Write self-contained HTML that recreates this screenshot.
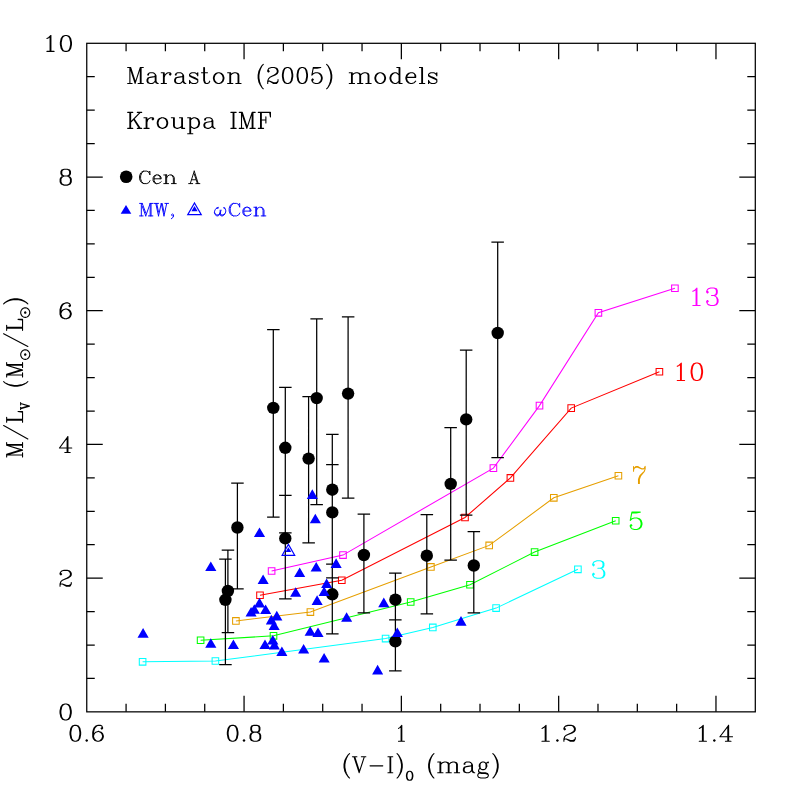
<!DOCTYPE html>
<html><head><meta charset="utf-8"><title>M/L vs V-I</title>
<style>html,body{margin:0;padding:0;background:#fff;font-family:"Liberation Sans",sans-serif;}svg{display:block;}</style></head><body>
<svg width="797" height="797" viewBox="0 0 797 797">
<rect x="0" y="0" width="797" height="797" fill="#ffffff"/>
<rect x="86.75" y="43.3" width="668.55" height="668.5500000000001" fill="none" stroke="#000" stroke-width="1.25"/>
<path d="M126.08 711.85V703.85M126.08 43.3V51.3M165.40 711.85V703.85M165.40 43.3V51.3M204.73 711.85V703.85M204.73 43.3V51.3M244.06 711.85V695.85M244.06 43.3V59.3M283.38 711.85V703.85M283.38 43.3V51.3M322.71 711.85V703.85M322.71 43.3V51.3M362.04 711.85V703.85M362.04 43.3V51.3M401.36 711.85V695.85M401.36 43.3V59.3M440.69 711.85V703.85M440.69 43.3V51.3M480.01 711.85V703.85M480.01 43.3V51.3M519.34 711.85V703.85M519.34 43.3V51.3M558.67 711.85V695.85M558.67 43.3V59.3M597.99 711.85V703.85M597.99 43.3V51.3M637.32 711.85V703.85M637.32 43.3V51.3M676.65 711.85V703.85M676.65 43.3V51.3M715.97 711.85V695.85M715.97 43.3V59.3M86.75 678.42H94.75M755.3 678.42H747.3M86.75 645.00H94.75M755.3 645.00H747.3M86.75 611.57H94.75M755.3 611.57H747.3M86.75 578.14H102.75M755.3 578.14H739.3M86.75 544.71H94.75M755.3 544.71H747.3M86.75 511.29H94.75M755.3 511.29H747.3M86.75 477.86H94.75M755.3 477.86H747.3M86.75 444.43H102.75M755.3 444.43H739.3M86.75 411.00H94.75M755.3 411.00H747.3M86.75 377.57H94.75M755.3 377.57H747.3M86.75 344.15H94.75M755.3 344.15H747.3M86.75 310.72H102.75M755.3 310.72H739.3M86.75 277.29H94.75M755.3 277.29H747.3M86.75 243.87H94.75M755.3 243.87H747.3M86.75 210.44H94.75M755.3 210.44H747.3M86.75 177.01H102.75M755.3 177.01H739.3M86.75 143.58H94.75M755.3 143.58H747.3M86.75 110.15H94.75M755.3 110.15H747.3M86.75 76.73H94.75M755.3 76.73H747.3" fill="none" stroke="#000" stroke-width="1.25"/>
<path d="M142.6 661.8L215.4 661.0L385.6 638.6L432.8 627.4L496.1 608.1L577.9 569.3" fill="none" stroke="#00ffff" stroke-width="1.05"/>
<path d="M139.3 658.5h6.6v6.6h-6.6zM212.1 657.7h6.6v6.6h-6.6zM382.3 635.3h6.6v6.6h-6.6zM429.5 624.1h6.6v6.6h-6.6zM492.8 604.8h6.6v6.6h-6.6zM574.6 566.0h6.6v6.6h-6.6z" fill="none" stroke="#00ffff" stroke-width="1.05"/>
<path d="M200.6 640.2L273.5 635.8L410.7 602.0L470.0 584.7L534.6 552.1L615.7 520.7" fill="none" stroke="#00ff00" stroke-width="1.05"/>
<path d="M197.3 636.9h6.6v6.6h-6.6zM270.2 632.5h6.6v6.6h-6.6zM407.4 598.7h6.6v6.6h-6.6zM466.7 581.4h6.6v6.6h-6.6zM531.3 548.8h6.6v6.6h-6.6zM612.4 517.4h6.6v6.6h-6.6z" fill="none" stroke="#00ff00" stroke-width="1.05"/>
<path d="M235.9 620.9L310.4 612.1L430.9 566.9L489.2 545.4L553.8 497.8L618.4 475.7" fill="none" stroke="#e69f00" stroke-width="1.05"/>
<path d="M232.6 617.6h6.6v6.6h-6.6zM307.1 608.8h6.6v6.6h-6.6zM427.6 563.6h6.6v6.6h-6.6zM485.9 542.1h6.6v6.6h-6.6zM550.5 494.5h6.6v6.6h-6.6zM615.1 472.4h6.6v6.6h-6.6z" fill="none" stroke="#e69f00" stroke-width="1.05"/>
<path d="M260.0 595.2L341.8 580.2L465.0 517.5L510.4 477.9L571.2 408.1L659.4 371.7" fill="none" stroke="#ff0000" stroke-width="1.05"/>
<path d="M256.7 591.9h6.6v6.6h-6.6zM338.5 576.9h6.6v6.6h-6.6zM461.7 514.2h6.6v6.6h-6.6zM507.1 474.6h6.6v6.6h-6.6zM567.9 404.8h6.6v6.6h-6.6zM656.1 368.4h6.6v6.6h-6.6z" fill="none" stroke="#ff0000" stroke-width="1.05"/>
<path d="M271.6 571.0L343.0 555.1L493.4 468.1L539.5 405.6L598.4 312.8L674.9 288.2" fill="none" stroke="#ff00ff" stroke-width="1.05"/>
<path d="M268.3 567.7h6.6v6.6h-6.6zM339.7 551.8h6.6v6.6h-6.6zM490.1 464.8h6.6v6.6h-6.6zM536.2 402.3h6.6v6.6h-6.6zM595.1 309.5h6.6v6.6h-6.6zM671.6 284.9h6.6v6.6h-6.6z" fill="none" stroke="#ff00ff" stroke-width="1.05"/>
<path d="M225.4 559.1V664.5M219.2 559.1H231.7M219.2 664.5H231.7M227.9 550.1V632.7M221.7 550.1H234.2M221.7 632.7H234.2M237.4 483.2V588.8M231.2 483.2H243.7M231.2 588.8H243.7M273.3 329.6V517.2M267.1 329.6H279.6M267.1 517.2H279.6M285.3 387.3V532.8M279.1 387.3H291.6M279.1 532.8H291.6M285.3 495.3V598.8M279.1 495.3H291.6M279.1 598.8H291.6M308.6 396.6V542.8M302.4 396.6H314.9M302.4 542.8H314.9M316.7 318.8V504.7M310.4 318.8H322.9M310.4 504.7H322.9M348.1 316.8V498.2M341.9 316.8H354.4M341.9 498.2H354.4M332.3 434.3V564.1M326.1 434.3H338.6M326.1 564.1H338.6M332.3 464.6V577.9M326.1 464.6H338.6M326.1 577.9H338.6M332.3 564.1V633.9M326.1 564.1H338.6M326.1 633.9H338.6M363.9 514.2V612.9M357.6 514.2H370.1M357.6 612.9H370.1M426.8 514.7V613.8M420.6 514.7H433.1M420.6 613.8H433.1M395.4 573.2V619.9M389.1 573.2H401.6M389.1 619.9H401.6M395.4 619.9V670.8M389.1 619.9H401.6M389.1 670.8H401.6M450.7 427.7V560.2M444.4 427.7H456.9M444.4 560.2H456.9M466.2 350.1V515.0M459.9 350.1H472.4M459.9 515.0H472.4M473.8 531.5V612.8M467.6 531.5H480.1M467.6 612.8H480.1M497.7 242.2V457.5M491.4 242.2H503.9M491.4 457.5H503.9" fill="none" stroke="#000" stroke-width="1.25"/>
<circle cx="225.4" cy="599.8" r="6.2" fill="#000"/>
<circle cx="227.9" cy="591.0" r="6.2" fill="#000"/>
<circle cx="237.4" cy="527.5" r="6.2" fill="#000"/>
<circle cx="273.3" cy="407.9" r="6.2" fill="#000"/>
<circle cx="285.3" cy="447.8" r="6.2" fill="#000"/>
<circle cx="285.3" cy="538.4" r="6.2" fill="#000"/>
<circle cx="308.6" cy="458.6" r="6.2" fill="#000"/>
<circle cx="316.7" cy="398.1" r="6.2" fill="#000"/>
<circle cx="348.1" cy="393.6" r="6.2" fill="#000"/>
<circle cx="332.3" cy="489.7" r="6.2" fill="#000"/>
<circle cx="332.3" cy="512.4" r="6.2" fill="#000"/>
<circle cx="332.3" cy="594.3" r="6.2" fill="#000"/>
<circle cx="363.9" cy="555.0" r="6.2" fill="#000"/>
<circle cx="426.8" cy="555.7" r="6.2" fill="#000"/>
<circle cx="395.4" cy="599.7" r="6.2" fill="#000"/>
<circle cx="395.4" cy="641.4" r="6.2" fill="#000"/>
<circle cx="450.7" cy="483.9" r="6.2" fill="#000"/>
<circle cx="466.2" cy="419.4" r="6.2" fill="#000"/>
<circle cx="473.8" cy="565.5" r="6.2" fill="#000"/>
<circle cx="497.7" cy="333.0" r="6.2" fill="#000"/>
<path d="M143.1 628.1L148.7 637.7L137.5 637.7zM210.8 561.4L216.4 571.0L205.2 571.0zM210.8 638.2L216.4 647.8L205.2 647.8zM233.4 639.4L239.0 649.0L227.8 649.0zM259.5 527.4L265.1 537.0L253.9 537.0zM263.1 574.5L268.7 584.1L257.6 584.1zM299.7 567.5L305.2 577.1L294.1 577.1zM316.2 561.9L321.8 571.5L310.6 571.5zM295.7 587.2L301.2 596.8L290.1 596.8zM259.5 597.8L265.1 607.4L253.9 607.4zM251.1 607.0L256.6 616.6L245.5 616.6zM254.3 604.2L259.9 613.8L248.8 613.8zM265.6 604.4L271.2 614.0L260.1 614.0zM271.3 614.8L276.9 624.4L265.8 624.4zM276.8 610.8L282.4 620.4L271.2 620.4zM274.1 620.5L279.7 630.1L268.6 630.1zM317.1 595.3L322.7 604.9L311.6 604.9zM310.2 626.2L315.8 635.8L304.6 635.8zM318.0 627.4L323.6 637.0L312.4 637.0zM265.0 639.4L270.6 649.0L259.4 649.0zM272.8 635.0L278.4 644.6L267.2 644.6zM274.4 639.9L279.9 649.5L268.8 649.5zM281.9 646.5L287.4 656.1L276.3 656.1zM303.6 643.9L309.2 653.5L298.1 653.5zM324.1 652.9L329.7 662.5L318.6 662.5zM312.3 489.3L317.9 498.9L306.8 498.9zM315.3 513.7L320.9 523.3L309.8 523.3zM336.1 558.3L341.7 567.9L330.6 567.9zM326.6 578.4L332.2 588.0L321.1 588.0zM324.1 586.4L329.7 596.0L318.6 596.0zM346.6 612.2L352.2 621.8L341.1 621.8zM383.8 597.6L389.4 607.2L378.2 607.2zM397.3 627.4L402.9 637.0L391.8 637.0zM461.0 616.1L466.6 625.7L455.4 625.7zM377.6 664.8L383.2 674.4L372.1 674.4z" fill="#0000ff"/>
<path d="M288.40 544.42L294.68 555.30L282.12 555.30z" fill="none" stroke="#0000ff" stroke-width="1.2" stroke-linejoin="miter"/><path d="M288.4 547.3L291.3 552.1L285.5 552.1z" fill="#0000ff"/>
<path d="M64.85 704.05L62.45 704.81L60.85 707.08L60.05 710.87L60.05 713.14L60.85 716.92L62.45 719.19L64.85 719.95L66.45 719.95L68.85 719.19L70.45 716.92L71.25 713.14L71.25 710.87L70.45 707.08L68.85 704.81L66.45 704.05L64.85 704.05M64.85 704.05L63.25 704.81L62.45 705.57L61.65 707.08L60.85 710.87L60.85 713.14L61.65 716.92L62.45 718.44L63.25 719.19L64.85 719.95M66.45 719.95L68.05 719.19L68.85 718.44L69.65 716.92L70.45 713.14L70.45 710.87L69.65 707.08L68.85 705.57L68.05 704.81L66.45 704.05" fill="none" stroke="#000" stroke-width="1.1" stroke-linecap="round" stroke-linejoin="round"/>
<path d="M60.85 573.37L61.65 574.13L60.85 574.88L60.05 574.13L60.05 573.37L60.85 571.86L61.65 571.10L64.05 570.34L67.25 570.34L69.65 571.10L70.45 571.86L71.25 573.37L71.25 574.88L70.45 576.40L68.05 577.91L64.05 579.43L62.45 580.18L60.85 581.70L60.05 583.97L60.05 586.24M67.25 570.34L68.85 571.10L69.65 571.86L70.45 573.37L70.45 574.88L69.65 576.40L67.25 577.91L64.05 579.43M60.05 584.73L60.85 583.97L62.45 583.97L66.45 585.48L68.85 585.48L70.45 584.73L71.25 583.97M62.45 583.97L66.45 586.24L69.65 586.24L70.45 585.48L71.25 583.97L71.25 582.46" fill="none" stroke="#000" stroke-width="1.1" stroke-linecap="round" stroke-linejoin="round"/>
<path d="M67.14 438.15L67.14 452.53M67.91 436.63L67.91 452.53M67.91 436.63L59.45 447.99L71.75 447.99M64.83 452.53L70.21 452.53" fill="none" stroke="#000" stroke-width="1.1" stroke-linecap="round" stroke-linejoin="round"/>
<path d="M69.65 305.19L68.85 305.95L69.65 306.71L70.45 305.95L70.45 305.19L69.65 303.68L68.05 302.92L65.65 302.92L63.25 303.68L61.65 305.19L60.85 306.71L60.05 309.74L60.05 314.28L60.85 316.55L62.45 318.06L64.85 318.82L66.45 318.82L68.85 318.06L70.45 316.55L71.25 314.28L71.25 313.52L70.45 311.25L68.85 309.74L66.45 308.98L65.65 308.98L63.25 309.74L61.65 311.25L60.85 313.52M65.65 302.92L64.05 303.68L62.45 305.19L61.65 306.71L60.85 309.74L60.85 314.28L61.65 316.55L63.25 318.06L64.85 318.82M66.45 318.82L68.05 318.06L69.65 316.55L70.45 314.28L70.45 313.52L69.65 311.25L68.05 309.74L66.45 308.98" fill="none" stroke="#000" stroke-width="1.1" stroke-linecap="round" stroke-linejoin="round"/>
<path d="M64.11 169.21L61.74 169.97L60.94 171.48L60.94 173.75L61.74 175.27L64.11 176.03L67.29 176.03L69.66 175.27L70.46 173.75L70.46 171.48L69.66 169.97L67.29 169.21L64.11 169.21M64.11 169.21L62.53 169.97L61.74 171.48L61.74 173.75L62.53 175.27L64.11 176.03M67.29 176.03L68.87 175.27L69.66 173.75L69.66 171.48L68.87 169.97L67.29 169.21M64.11 176.03L61.74 176.78L60.94 177.54L60.15 179.05L60.15 182.08L60.94 183.60L61.74 184.35L64.11 185.11L67.29 185.11L69.66 184.35L70.46 183.60L71.25 182.08L71.25 179.05L70.46 177.54L69.66 176.78L67.29 176.03M64.11 176.03L62.53 176.78L61.74 177.54L60.94 179.05L60.94 182.08L61.74 183.60L62.53 184.35L64.11 185.11M67.29 185.11L68.87 184.35L69.66 183.60L70.46 182.08L70.46 179.05L69.66 177.54L68.87 176.78L67.29 176.03" fill="none" stroke="#000" stroke-width="1.1" stroke-linecap="round" stroke-linejoin="round"/>
<path d="M46.95 38.53L48.53 37.77L50.90 35.50L50.90 51.40M50.11 36.26L50.11 51.40M46.95 51.40L54.06 51.40M65.13 35.50L62.76 36.26L61.18 38.53L60.39 42.32L60.39 44.59L61.18 48.37L62.76 50.64L65.13 51.40L66.71 51.40L69.08 50.64L70.66 48.37L71.45 44.59L71.45 42.32L70.66 38.53L69.08 36.26L66.71 35.50L65.13 35.50M65.13 35.50L63.55 36.26L62.76 37.02L61.97 38.53L61.18 42.32L61.18 44.59L61.97 48.37L62.76 49.89L63.55 50.64L65.13 51.40M66.71 51.40L68.29 50.64L69.08 49.89L69.87 48.37L70.66 44.59L70.66 42.32L69.87 38.53L69.08 37.02L68.29 36.26L66.71 35.50" fill="none" stroke="#000" stroke-width="1.1" stroke-linecap="round" stroke-linejoin="round"/>
<path d="M74.59 725.35L72.32 726.11L70.81 728.38L70.05 732.17L70.05 734.44L70.81 738.22L72.32 740.49L74.59 741.25L76.10 741.25L78.38 740.49L79.89 738.22L80.65 734.44L80.65 732.17L79.89 728.38L78.38 726.11L76.10 725.35L74.59 725.35M74.59 725.35L73.08 726.11L72.32 726.87L71.56 728.38L70.81 732.17L70.81 734.44L71.56 738.22L72.32 739.74L73.08 740.49L74.59 741.25M76.10 741.25L77.62 740.49L78.38 739.74L79.13 738.22L79.89 734.44L79.89 732.17L79.13 728.38L78.38 726.87L77.62 726.11L76.10 725.35M86.70 739.74L85.94 740.49L86.70 741.25L87.46 740.49L86.70 739.74M101.84 727.62L101.08 728.38L101.84 729.14L102.59 728.38L102.59 727.62L101.84 726.11L100.32 725.35L98.05 725.35L95.78 726.11L94.27 727.62L93.51 729.14L92.75 732.17L92.75 736.71L93.51 738.98L95.03 740.49L97.30 741.25L98.81 741.25L101.08 740.49L102.59 738.98L103.35 736.71L103.35 735.95L102.59 733.68L101.08 732.17L98.81 731.41L98.05 731.41L95.78 732.17L94.27 733.68L93.51 735.95M98.05 725.35L96.54 726.11L95.03 727.62L94.27 729.14L93.51 732.17L93.51 736.71L94.27 738.98L95.78 740.49L97.30 741.25M98.81 741.25L100.32 740.49L101.84 738.98L102.59 736.71L102.59 735.95L101.84 733.68L100.32 732.17L98.81 731.41" fill="none" stroke="#000" stroke-width="1.1" stroke-linecap="round" stroke-linejoin="round"/>
<path d="M231.90 725.35L229.63 726.11L228.11 728.38L227.36 732.17L227.36 734.44L228.11 738.22L229.63 740.49L231.90 741.25L233.41 741.25L235.68 740.49L237.19 738.22L237.95 734.44L237.95 732.17L237.19 728.38L235.68 726.11L233.41 725.35L231.90 725.35M231.90 725.35L230.38 726.11L229.63 726.87L228.87 728.38L228.11 732.17L228.11 734.44L228.87 738.22L229.63 739.74L230.38 740.49L231.90 741.25M233.41 741.25L234.92 740.49L235.68 739.74L236.44 738.22L237.19 734.44L237.19 732.17L236.44 728.38L235.68 726.87L234.92 726.11L233.41 725.35M244.01 739.74L243.25 740.49L244.01 741.25L244.76 740.49L244.01 739.74M253.84 725.35L251.57 726.11L250.82 727.62L250.82 729.89L251.57 731.41L253.84 732.17L256.87 732.17L259.14 731.41L259.90 729.89L259.90 727.62L259.14 726.11L256.87 725.35L253.84 725.35M253.84 725.35L252.33 726.11L251.57 727.62L251.57 729.89L252.33 731.41L253.84 732.17M256.87 732.17L258.39 731.41L259.14 729.89L259.14 727.62L258.39 726.11L256.87 725.35M253.84 732.17L251.57 732.92L250.82 733.68L250.06 735.19L250.06 738.22L250.82 739.74L251.57 740.49L253.84 741.25L256.87 741.25L259.14 740.49L259.90 739.74L260.66 738.22L260.66 735.19L259.90 733.68L259.14 732.92L256.87 732.17M253.84 732.17L252.33 732.92L251.57 733.68L250.82 735.19L250.82 738.22L251.57 739.74L252.33 740.49L253.84 741.25M256.87 741.25L258.39 740.49L259.14 739.74L259.90 738.22L259.90 735.19L259.14 733.68L258.39 732.92L256.87 732.17" fill="none" stroke="#000" stroke-width="1.1" stroke-linecap="round" stroke-linejoin="round"/>
<path d="M398.51 728.38L399.82 727.62L401.79 725.35L401.79 741.25M401.13 726.11L401.13 741.25M398.51 741.25L404.41 741.25" fill="none" stroke="#000" stroke-width="1.1" stroke-linecap="round" stroke-linejoin="round"/>
<path d="M541.97 728.38L543.59 727.62L546.03 725.35L546.03 741.25M545.22 726.11L545.22 741.25M541.97 741.25L549.28 741.25M557.40 739.74L556.59 740.49L557.40 741.25L558.21 740.49L557.40 739.74M564.71 728.38L565.52 729.14L564.71 729.89L563.90 729.14L563.90 728.38L564.71 726.87L565.52 726.11L567.96 725.35L571.21 725.35L573.64 726.11L574.46 726.87L575.27 728.38L575.27 729.89L574.46 731.41L572.02 732.92L567.96 734.44L566.33 735.19L564.71 736.71L563.90 738.98L563.90 741.25M571.21 725.35L572.83 726.11L573.64 726.87L574.46 728.38L574.46 729.89L573.64 731.41L571.21 732.92L567.96 734.44M563.90 739.74L564.71 738.98L566.33 738.98L570.39 740.49L572.83 740.49L574.46 739.74L575.27 738.98M566.33 738.98L570.39 741.25L573.64 741.25L574.46 740.49L575.27 738.98L575.27 737.47" fill="none" stroke="#000" stroke-width="1.1" stroke-linecap="round" stroke-linejoin="round"/>
<path d="M699.27 728.38L700.86 727.62L703.24 725.35L703.24 741.25M702.44 726.11L702.44 741.25M699.27 741.25L706.41 741.25M714.34 739.74L713.54 740.49L714.34 741.25L715.13 740.49L714.34 739.74M727.82 726.87L727.82 741.25M728.61 725.35L728.61 741.25M728.61 725.35L719.89 736.71L732.57 736.71M725.44 741.25L730.99 741.25" fill="none" stroke="#000" stroke-width="1.1" stroke-linecap="round" stroke-linejoin="round"/>
<path d="M129.89 67.45L129.89 83.45M130.63 67.45L135.11 81.16M129.89 67.45L135.11 83.45M140.33 67.45L135.11 83.45M140.33 67.45L140.33 83.45M141.08 67.45L141.08 83.45M127.65 67.45L130.63 67.45M140.33 67.45L143.32 67.45M127.65 83.45L132.13 83.45M138.09 83.45L143.32 83.45M148.54 74.31L148.54 75.07L147.79 75.07L147.79 74.31L148.54 73.54L150.03 72.78L153.02 72.78L154.51 73.54L155.25 74.31L156.00 75.83L156.00 81.16L156.75 82.69L157.49 83.45M155.25 74.31L155.25 81.16L156.00 82.69L157.49 83.45L158.24 83.45M155.25 75.83L154.51 76.59L150.03 77.35L147.79 78.12L147.05 79.64L147.05 81.16L147.79 82.69L150.03 83.45L152.27 83.45L153.76 82.69L155.25 81.16M150.03 77.35L148.54 78.12L147.79 79.64L147.79 81.16L148.54 82.69L150.03 83.45M163.46 72.78L163.46 83.45M164.21 72.78L164.21 83.45M164.21 77.35L164.95 75.07L166.44 73.54L167.94 72.78L170.18 72.78L170.92 73.54L170.92 74.31L170.18 75.07L169.43 74.31L170.18 73.54M161.22 72.78L164.21 72.78M161.22 83.45L166.44 83.45M176.14 74.31L176.14 75.07L175.40 75.07L175.40 74.31L176.14 73.54L177.64 72.78L180.62 72.78L182.11 73.54L182.86 74.31L183.60 75.83L183.60 81.16L184.35 82.69L185.10 83.45M182.86 74.31L182.86 81.16L183.60 82.69L185.10 83.45L185.84 83.45M182.86 75.83L182.11 76.59L177.64 77.35L175.40 78.12L174.65 79.64L174.65 81.16L175.40 82.69L177.64 83.45L179.87 83.45L181.37 82.69L182.86 81.16M177.64 77.35L176.14 78.12L175.40 79.64L175.40 81.16L176.14 82.69L177.64 83.45M197.03 74.31L197.78 72.78L197.78 75.83L197.03 74.31L196.29 73.54L194.79 72.78L191.81 72.78L190.32 73.54L189.57 74.31L189.57 75.83L190.32 76.59L191.81 77.35L195.54 78.88L197.03 79.64L197.78 80.40M189.57 75.07L190.32 75.83L191.81 76.59L195.54 78.12L197.03 78.88L197.78 79.64L197.78 81.93L197.03 82.69L195.54 83.45L192.56 83.45L191.06 82.69L190.32 81.93L189.57 80.40L189.57 83.45L190.32 81.93M203.75 67.45L203.75 80.40L204.49 82.69L205.99 83.45L207.48 83.45L208.97 82.69L209.72 81.16M204.49 67.45L204.49 80.40L205.24 82.69L205.99 83.45M201.51 72.78L207.48 72.78M217.92 72.78L215.68 73.54L214.19 75.07L213.45 77.35L213.45 78.88L214.19 81.16L215.68 82.69L217.92 83.45L219.41 83.45L221.65 82.69L223.14 81.16L223.89 78.88L223.89 77.35L223.14 75.07L221.65 73.54L219.41 72.78L217.92 72.78M217.92 72.78L216.43 73.54L214.94 75.07L214.19 77.35L214.19 78.88L214.94 81.16L216.43 82.69L217.92 83.45M219.41 83.45L220.91 82.69L222.40 81.16L223.14 78.88L223.14 77.35L222.40 75.07L220.91 73.54L219.41 72.78M229.86 72.78L229.86 83.45M230.61 72.78L230.61 83.45M230.61 75.07L232.10 73.54L234.34 72.78L235.83 72.78L238.07 73.54L238.81 75.07L238.81 83.45M235.83 72.78L237.32 73.54L238.07 75.07L238.07 83.45M227.62 72.78L230.61 72.78M227.62 83.45L232.84 83.45M235.83 83.45L241.05 83.45" fill="none" stroke="#000" stroke-width="1.1" stroke-linecap="round" stroke-linejoin="round"/>
<path d="M263.30 64.40L261.83 65.92L260.36 68.21L258.89 71.26L258.15 75.07L258.15 78.12L258.89 81.93L260.36 84.97L261.83 87.26L263.30 88.78M261.83 65.92L260.36 68.97L259.62 71.26L258.89 75.07L258.89 78.12L259.62 81.93L260.36 84.21L261.83 87.26M268.45 70.50L269.19 71.26L268.45 72.02L267.72 71.26L267.72 70.50L268.45 68.97L269.19 68.21L271.40 67.45L274.34 67.45L276.55 68.21L277.29 68.97L278.02 70.50L278.02 72.02L277.29 73.54L275.08 75.07L271.40 76.59L269.93 77.35L268.45 78.88L267.72 81.16L267.72 83.45M274.34 67.45L275.81 68.21L276.55 68.97L277.29 70.50L277.29 72.02L276.55 73.54L274.34 75.07L271.40 76.59M267.72 81.93L268.45 81.16L269.93 81.16L273.61 82.69L275.81 82.69L277.29 81.93L278.02 81.16M269.93 81.16L273.61 83.45L276.55 83.45L277.29 82.69L278.02 81.16L278.02 79.64M286.85 67.45L284.65 68.21L283.17 70.50L282.44 74.31L282.44 76.59L283.17 80.40L284.65 82.69L286.85 83.45L288.33 83.45L290.53 82.69L292.01 80.40L292.74 76.59L292.74 74.31L292.01 70.50L290.53 68.21L288.33 67.45L286.85 67.45M286.85 67.45L285.38 68.21L284.65 68.97L283.91 70.50L283.17 74.31L283.17 76.59L283.91 80.40L284.65 81.93L285.38 82.69L286.85 83.45M288.33 83.45L289.80 82.69L290.53 81.93L291.27 80.40L292.01 76.59L292.01 74.31L291.27 70.50L290.53 68.97L289.80 68.21L288.33 67.45M301.57 67.45L299.37 68.21L297.89 70.50L297.16 74.31L297.16 76.59L297.89 80.40L299.37 82.69L301.57 83.45L303.05 83.45L305.25 82.69L306.73 80.40L307.46 76.59L307.46 74.31L306.73 70.50L305.25 68.21L303.05 67.45L301.57 67.45M301.57 67.45L300.10 68.21L299.37 68.97L298.63 70.50L297.89 74.31L297.89 76.59L298.63 80.40L299.37 81.93L300.10 82.69L301.57 83.45M303.05 83.45L304.52 82.69L305.25 81.93L305.99 80.40L306.73 76.59L306.73 74.31L305.99 70.50L305.25 68.97L304.52 68.21L303.05 67.45M313.35 67.45L311.88 75.07M311.88 75.07L313.35 73.54L315.56 72.78L317.77 72.78L319.97 73.54L321.45 75.07L322.18 77.35L322.18 78.88L321.45 81.16L319.97 82.69L317.77 83.45L315.56 83.45L313.35 82.69L312.61 81.93L311.88 80.40L311.88 79.64L312.61 78.88L313.35 79.64L312.61 80.40M317.77 72.78L319.24 73.54L320.71 75.07L321.45 77.35L321.45 78.88L320.71 81.16L319.24 82.69L317.77 83.45M313.35 67.45L320.71 67.45M313.35 68.21L317.03 68.21L320.71 67.45M326.60 64.40L328.07 65.92L329.54 68.21L331.01 71.26L331.75 75.07L331.75 78.12L331.01 81.93L329.54 84.97L328.07 87.26L326.60 88.78M328.07 65.92L329.54 68.97L330.28 71.26L331.01 75.07L331.01 78.12L330.28 81.93L329.54 84.21L328.07 87.26" fill="none" stroke="#000" stroke-width="1.1" stroke-linecap="round" stroke-linejoin="round"/>
<path d="M351.52 72.78L351.52 83.45M352.27 72.78L352.27 83.45M352.27 75.07L353.78 73.54L356.05 72.78L357.56 72.78L359.82 73.54L360.58 75.07L360.58 83.45M357.56 72.78L359.07 73.54L359.82 75.07L359.82 83.45M360.58 75.07L362.09 73.54L364.35 72.78L365.86 72.78L368.13 73.54L368.88 75.07L368.88 83.45M365.86 72.78L367.37 73.54L368.13 75.07L368.13 83.45M349.25 72.78L352.27 72.78M349.25 83.45L354.54 83.45M357.56 83.45L362.84 83.45M365.86 83.45L371.15 83.45M379.46 72.78L377.19 73.54L375.68 75.07L374.93 77.35L374.93 78.88L375.68 81.16L377.19 82.69L379.46 83.45L380.97 83.45L383.23 82.69L384.74 81.16L385.50 78.88L385.50 77.35L384.74 75.07L383.23 73.54L380.97 72.78L379.46 72.78M379.46 72.78L377.95 73.54L376.44 75.07L375.68 77.35L375.68 78.88L376.44 81.16L377.95 82.69L379.46 83.45M380.97 83.45L382.48 82.69L383.99 81.16L384.74 78.88L384.74 77.35L383.99 75.07L382.48 73.54L380.97 72.78M399.09 67.45L399.09 83.45M399.85 67.45L399.85 83.45M399.09 75.07L397.58 73.54L396.07 72.78L394.56 72.78L392.29 73.54L390.78 75.07L390.03 77.35L390.03 78.88L390.78 81.16L392.29 82.69L394.56 83.45L396.07 83.45L397.58 82.69L399.09 81.16M394.56 72.78L393.05 73.54L391.54 75.07L390.78 77.35L390.78 78.88L391.54 81.16L393.05 82.69L394.56 83.45M396.83 67.45L399.85 67.45M399.09 83.45L402.11 83.45M406.64 77.35L415.71 77.35L415.71 75.83L414.95 74.31L414.19 73.54L412.68 72.78L410.42 72.78L408.15 73.54L406.64 75.07L405.89 77.35L405.89 78.88L406.64 81.16L408.15 82.69L410.42 83.45L411.93 83.45L414.19 82.69L415.71 81.16M414.95 77.35L414.95 75.07L414.19 73.54M410.42 72.78L408.91 73.54L407.40 75.07L406.64 77.35L406.64 78.88L407.40 81.16L408.91 82.69L410.42 83.45M421.75 67.45L421.75 83.45M422.50 67.45L422.50 83.45M419.48 67.45L422.50 67.45M419.48 83.45L424.77 83.45M436.09 74.31L436.85 72.78L436.85 75.83L436.09 74.31L435.34 73.54L433.83 72.78L430.81 72.78L429.30 73.54L428.54 74.31L428.54 75.83L429.30 76.59L430.81 77.35L434.58 78.88L436.09 79.64L436.85 80.40M428.54 75.07L429.30 75.83L430.81 76.59L434.58 78.12L436.09 78.88L436.85 79.64L436.85 81.93L436.09 82.69L434.58 83.45L431.56 83.45L430.05 82.69L429.30 81.93L428.54 80.40L428.54 83.45L429.30 81.93" fill="none" stroke="#000" stroke-width="1.1" stroke-linecap="round" stroke-linejoin="round"/>
<path d="M129.87 112.35L129.87 128.35M130.61 112.35L130.61 128.35M140.24 112.35L130.61 122.25M134.32 119.21L140.24 128.35M133.58 119.21L139.50 128.35M127.65 112.35L132.83 112.35M137.28 112.35L141.72 112.35M127.65 128.35L132.83 128.35M137.28 128.35L141.72 128.35M146.17 117.68L146.17 128.35M146.91 117.68L146.91 128.35M146.91 122.25L147.65 119.97L149.13 118.44L150.61 117.68L152.83 117.68L153.57 118.44L153.57 119.21L152.83 119.97L152.09 119.21L152.83 118.44M143.94 117.68L146.91 117.68M143.94 128.35L149.13 128.35M161.72 117.68L159.50 118.44L158.02 119.97L157.28 122.25L157.28 123.78L158.02 126.06L159.50 127.59L161.72 128.35L163.20 128.35L165.42 127.59L166.91 126.06L167.65 123.78L167.65 122.25L166.91 119.97L165.42 118.44L163.20 117.68L161.72 117.68M161.72 117.68L160.24 118.44L158.76 119.97L158.02 122.25L158.02 123.78L158.76 126.06L160.24 127.59L161.72 128.35M163.20 128.35L164.68 127.59L166.17 126.06L166.91 123.78L166.91 122.25L166.17 119.97L164.68 118.44L163.20 117.68M173.57 117.68L173.57 126.06L174.31 127.59L176.53 128.35L178.02 128.35L180.24 127.59L181.72 126.06M174.31 117.68L174.31 126.06L175.05 127.59L176.53 128.35M181.72 117.68L181.72 128.35M182.46 117.68L182.46 128.35M171.35 117.68L174.31 117.68M179.50 117.68L182.46 117.68M181.72 128.35L184.68 128.35M189.87 117.68L189.87 133.68M190.61 117.68L190.61 133.68M190.61 119.97L192.09 118.44L193.57 117.68L195.05 117.68L197.27 118.44L198.76 119.97L199.50 122.25L199.50 123.78L198.76 126.06L197.27 127.59L195.05 128.35L193.57 128.35L192.09 127.59L190.61 126.06M195.05 117.68L196.53 118.44L198.01 119.97L198.76 122.25L198.76 123.78L198.01 126.06L196.53 127.59L195.05 128.35M187.64 117.68L190.61 117.68M187.64 133.68L192.83 133.68M205.42 119.21L205.42 119.97L204.68 119.97L204.68 119.21L205.42 118.44L206.90 117.68L209.87 117.68L211.35 118.44L212.09 119.21L212.83 120.73L212.83 126.06L213.57 127.59L214.31 128.35M212.09 119.21L212.09 126.06L212.83 127.59L214.31 128.35L215.05 128.35M212.09 120.73L211.35 121.49L206.90 122.25L204.68 123.02L203.94 124.54L203.94 126.06L204.68 127.59L206.90 128.35L209.12 128.35L210.61 127.59L212.09 126.06M206.90 122.25L205.42 123.02L204.68 124.54L204.68 126.06L205.42 127.59L206.90 128.35" fill="none" stroke="#000" stroke-width="1.1" stroke-linecap="round" stroke-linejoin="round"/>
<path d="M233.13 112.35L233.13 128.35M233.90 112.35L233.90 128.35M230.85 112.35L236.18 112.35M230.85 128.35L236.18 128.35M241.51 112.35L241.51 128.35M242.27 112.35L246.84 126.06M241.51 112.35L246.84 128.35M252.17 112.35L246.84 128.35M252.17 112.35L252.17 128.35M252.93 112.35L252.93 128.35M239.23 112.35L242.27 112.35M252.17 112.35L255.22 112.35M239.23 128.35L243.80 128.35M249.89 128.35L255.22 128.35M260.55 112.35L260.55 128.35M261.31 112.35L261.31 128.35M265.88 116.92L265.88 123.02M258.27 112.35L270.45 112.35L270.45 116.92L269.69 112.35M261.31 119.97L265.88 119.97M258.27 128.35L263.60 128.35" fill="none" stroke="#000" stroke-width="1.1" stroke-linecap="round" stroke-linejoin="round"/>
<circle cx="126.2" cy="176.8" r="6.3" fill="#000"/>
<path d="M148.89 172.08L149.93 171.12L149.93 174.96L148.89 172.08L146.82 171.12L143.72 171.12L141.64 172.08L140.61 173.04L139.57 175.92L139.57 178.80L140.61 181.68L141.64 182.64L143.72 183.60L146.82 183.60L148.89 182.64L149.93 180.72M143.72 171.12L141.64 173.04L140.61 175.92L140.61 178.80L141.64 181.68L143.72 183.60" fill="none" stroke="#000" stroke-width="0.95" stroke-linecap="round" stroke-linejoin="round"/><path d="M154.09 178.80L161.22 178.80L161.22 177.84L160.21 175.92L158.17 174.96L156.13 174.96L154.09 175.92L153.07 177.84L153.07 180.72L154.09 182.64L156.13 183.60L158.17 183.60L160.21 182.64L161.22 181.68M160.21 178.80L160.21 176.88L158.17 174.96M156.13 174.96L155.11 175.92L154.09 177.84L154.09 180.72L155.11 182.64L156.13 183.60" fill="none" stroke="#000" stroke-width="0.95" stroke-linecap="round" stroke-linejoin="round"/><path d="M165.69 174.96L165.69 183.60M166.65 174.96L166.65 183.60M166.65 177.84L167.61 175.92L169.52 174.96L171.44 174.96L173.35 175.92L174.31 177.84L174.31 183.60M171.44 174.96L172.39 175.92L173.35 177.84L173.35 183.60M163.78 174.96L166.65 174.96M163.78 183.60L168.56 183.60M171.44 183.60L176.22 183.60" fill="none" stroke="#000" stroke-width="0.95" stroke-linecap="round" stroke-linejoin="round"/><path d="M194.25 171.12L190.27 183.60M194.25 174.00L197.44 183.60M194.25 171.12L198.23 183.60M191.86 179.76L195.84 179.76M188.67 183.60L192.66 183.60M195.84 183.60L199.83 183.60" fill="none" stroke="#000" stroke-width="0.95" stroke-linecap="round" stroke-linejoin="round"/>
<path d="M126.0 205.0L131.3 213.8L120.7 213.8z" fill="#0000ff"/>
<path d="M141.34 203.42L141.34 215.90M142.22 206.30L145.76 215.90M142.22 203.42L145.76 213.02M150.18 203.42L145.76 215.90M150.18 203.42L150.18 215.90M151.06 203.42L151.06 215.90M139.57 203.42L142.22 203.42M150.18 203.42L152.83 203.42M139.57 215.90L143.11 215.90M148.41 215.90L152.83 215.90" fill="none" stroke="#0000ff" stroke-width="0.95" stroke-linecap="round" stroke-linejoin="round"/><path d="M155.79 203.42L158.52 215.90M156.70 203.42L158.52 212.06M161.25 203.42L158.52 215.90M161.25 203.42L163.98 215.90M162.16 203.42L163.98 212.06M166.71 203.42L163.98 215.90M153.97 203.42L158.52 203.42M164.89 203.42L168.53 203.42" fill="none" stroke="#0000ff" stroke-width="0.95" stroke-linecap="round" stroke-linejoin="round"/><path d="M173.53 214.94L172.40 215.90L171.28 214.94L172.40 213.98L173.53 214.94L173.53 216.86L171.28 218.78" fill="none" stroke="#0000ff" stroke-width="0.95" stroke-linecap="round" stroke-linejoin="round"/>
<path d="M194.50 203.00L201.25 214.70L187.75 214.70z" fill="none" stroke="#0000ff" stroke-width="1.2" stroke-linejoin="miter"/><path d="M194.5 206.1L197.6 211.3L191.4 211.3z" fill="#0000ff"/>
<path d="M216.43 208.22L218.29 208.22L218.29 207.26L216.43 208.22L215.50 209.18L214.57 211.10L214.57 213.02L215.50 214.94L216.43 215.90L218.29 215.90L219.22 214.94L220.15 213.02L221.08 210.14M214.57 213.02L216.43 214.94L218.29 214.94L220.15 213.02M220.15 210.14L220.15 214.94L221.08 215.90L222.94 215.90L224.80 213.98L225.72 212.06L225.72 210.14L224.80 208.22L223.87 207.26L223.87 208.22L224.80 208.22M220.15 213.02L221.08 214.94L222.94 214.94L224.80 213.98" fill="none" stroke="#0000ff" stroke-width="0.95" stroke-linecap="round" stroke-linejoin="round"/><path d="M238.67 204.38L239.72 203.42L239.72 207.26L238.67 204.38L236.56 203.42L233.39 203.42L231.28 204.38L230.23 205.34L229.17 208.22L229.17 211.10L230.23 213.98L231.28 214.94L233.39 215.90L236.56 215.90L238.67 214.94L239.72 213.02M233.39 203.42L231.28 205.34L230.23 208.22L230.23 211.10L231.28 213.98L233.39 215.90" fill="none" stroke="#0000ff" stroke-width="0.95" stroke-linecap="round" stroke-linejoin="round"/><path d="M243.89 211.10L251.03 211.10L251.03 210.14L250.01 208.22L247.97 207.26L245.93 207.26L243.89 208.22L242.88 210.14L242.88 213.02L243.89 214.94L245.93 215.90L247.97 215.90L250.01 214.94L251.03 213.98M250.01 211.10L250.01 209.18L247.97 207.26M245.93 207.26L244.91 208.22L243.89 210.14L243.89 213.02L244.91 214.94L245.93 215.90" fill="none" stroke="#0000ff" stroke-width="0.95" stroke-linecap="round" stroke-linejoin="round"/><path d="M255.71 207.26L255.71 215.90M256.63 207.26L256.63 215.90M256.63 210.14L257.55 208.22L259.39 207.26L261.23 207.26L263.07 208.22L263.99 210.14L263.99 215.90M261.23 207.26L262.15 208.22L263.07 210.14L263.07 215.90M253.88 207.26L256.63 207.26M253.88 215.90L258.47 215.90M261.23 215.90L265.82 215.90" fill="none" stroke="#0000ff" stroke-width="0.95" stroke-linecap="round" stroke-linejoin="round"/>
<path d="M692.85 291.34L694.48 290.51L696.91 288.02L696.91 305.45M696.10 288.85L696.10 305.45M692.85 305.45L700.17 305.45M707.48 291.34L708.30 292.17L707.48 293.00L706.67 292.17L706.67 291.34L707.48 289.68L708.30 288.85L710.73 288.02L713.99 288.02L716.42 288.85L717.24 290.51L717.24 293.00L716.42 294.66L713.99 295.49L711.55 295.49M713.99 288.02L715.61 288.85L716.42 290.51L716.42 293.00L715.61 294.66L713.99 295.49M713.99 295.49L715.61 296.32L717.24 297.98L718.05 299.64L718.05 302.13L717.24 303.79L716.42 304.62L713.99 305.45L710.73 305.45L708.30 304.62L707.48 303.79L706.67 302.13L706.67 301.30L707.48 300.47L708.30 301.30L707.48 302.13M716.42 297.15L717.24 299.64L717.24 302.13L716.42 303.79L715.61 304.62L713.99 305.45" fill="none" stroke="#ff00ff" stroke-width="1.1" stroke-linecap="round" stroke-linejoin="round"/>
<path d="M677.25 366.34L678.88 365.51L681.33 363.02L681.33 380.45M680.51 363.85L680.51 380.45M677.25 380.45L684.60 380.45M696.02 363.02L693.57 363.85L691.94 366.34L691.12 370.49L691.12 372.98L691.94 377.13L693.57 379.62L696.02 380.45L697.65 380.45L700.10 379.62L701.73 377.13L702.55 372.98L702.55 370.49L701.73 366.34L700.10 363.85L697.65 363.02L696.02 363.02M696.02 363.02L694.39 363.85L693.57 364.68L692.76 366.34L691.94 370.49L691.94 372.98L692.76 377.13L693.57 378.79L694.39 379.62L696.02 380.45M697.65 380.45L699.29 379.62L700.10 378.79L700.92 377.13L701.73 372.98L701.73 370.49L700.92 366.34L700.10 364.68L699.29 363.85L697.65 363.02" fill="none" stroke="#ff0000" stroke-width="1.1" stroke-linecap="round" stroke-linejoin="round"/>
<path d="M633.55 466.44L633.55 471.30M633.55 469.68L634.38 468.06L636.04 466.44L637.69 466.44L641.84 468.87L643.49 468.87L644.32 468.06L645.15 466.44M634.38 468.06L636.04 467.25L637.69 467.25L641.84 468.87M645.15 466.44L645.15 468.87L644.32 471.30L641.01 475.35L640.18 476.97L639.35 479.40L639.35 483.45M644.32 471.30L640.18 475.35L639.35 476.97L638.52 479.40L638.52 483.45" fill="none" stroke="#e69f00" stroke-width="1.1" stroke-linecap="round" stroke-linejoin="round"/>
<path d="M631.92 512.12L630.25 520.42M630.25 520.42L631.92 518.76L634.43 517.93L636.94 517.93L639.44 518.76L641.11 520.42L641.95 522.91L641.95 524.57L641.11 527.06L639.44 528.72L636.94 529.55L634.43 529.55L631.92 528.72L631.09 527.89L630.25 526.23L630.25 525.40L631.09 524.57L631.92 525.40L631.09 526.23M636.94 517.93L638.61 518.76L640.28 520.42L641.11 522.91L641.11 524.57L640.28 527.06L638.61 528.72L636.94 529.55M631.92 512.12L640.28 512.12M631.92 512.95L636.10 512.95L640.28 512.12" fill="none" stroke="#00ff00" stroke-width="1.1" stroke-linecap="round" stroke-linejoin="round"/>
<path d="M593.51 564.14L594.38 564.97L593.51 565.80L592.65 564.97L592.65 564.14L593.51 562.48L594.38 561.65L596.97 560.82L600.43 560.82L603.02 561.65L603.89 563.31L603.89 565.80L603.02 567.46L600.43 568.29L597.84 568.29M600.43 560.82L602.16 561.65L603.02 563.31L603.02 565.80L602.16 567.46L600.43 568.29M600.43 568.29L602.16 569.12L603.89 570.78L604.75 572.44L604.75 574.93L603.89 576.59L603.02 577.42L600.43 578.25L596.97 578.25L594.38 577.42L593.51 576.59L592.65 574.93L592.65 574.10L593.51 573.27L594.38 574.10L593.51 574.93M603.02 569.95L603.89 572.44L603.89 574.93L603.02 576.59L602.16 577.42L600.43 578.25" fill="none" stroke="#00ffff" stroke-width="1.1" stroke-linecap="round" stroke-linejoin="round"/>
<path d="M349.55 753.65L347.98 755.17L346.41 757.46L344.84 760.51L344.05 764.32L344.05 767.37L344.84 771.18L346.41 774.22L347.98 776.51L349.55 778.03M347.98 755.17L346.41 758.22L345.62 760.51L344.84 764.32L344.84 767.37L345.62 771.18L346.41 773.46L347.98 776.51" fill="none" stroke="#000" stroke-width="1.1" stroke-linecap="round" stroke-linejoin="round"/><path d="M353.94 756.70L359.15 772.70M354.68 756.70L359.15 770.41M364.36 756.70L359.15 772.70M352.45 756.70L356.92 756.70M361.38 756.70L365.85 756.70" fill="none" stroke="#000" stroke-width="1.1" stroke-linecap="round" stroke-linejoin="round"/><path d="M370.05 765.84L382.75 765.84" fill="none" stroke="#000" stroke-width="1.1" stroke-linecap="round" stroke-linejoin="round"/><path d="M390.01 756.70L390.01 772.70M390.69 756.70L390.69 772.70M387.95 756.70L392.75 756.70M387.95 772.70L392.75 772.70" fill="none" stroke="#000" stroke-width="1.1" stroke-linecap="round" stroke-linejoin="round"/><path d="M397.05 753.65L398.54 755.17L400.02 757.46L401.51 760.51L402.25 764.32L402.25 767.37L401.51 771.18L400.02 774.22L398.54 776.51L397.05 778.03M398.54 755.17L400.02 758.22L400.76 760.51L401.51 764.32L401.51 767.37L400.76 771.18L400.02 773.46L398.54 776.51" fill="none" stroke="#000" stroke-width="1.1" stroke-linecap="round" stroke-linejoin="round"/>
<path d="M409.19 771.27L407.82 771.70L406.91 772.99L406.45 775.14L406.45 776.43L406.91 778.58L407.82 779.87L409.19 780.30L410.11 780.30L411.48 779.87L412.39 778.58L412.85 776.43L412.85 775.14L412.39 772.99L411.48 771.70L410.11 771.27L409.19 771.27M409.19 771.27L408.28 771.70L407.82 772.13L407.36 772.99L406.91 775.14L406.91 776.43L407.36 778.58L407.82 779.44L408.28 779.87L409.19 780.30M410.11 780.30L411.02 779.87L411.48 779.44L411.94 778.58L412.39 776.43L412.39 775.14L411.94 772.99L411.48 772.13L411.02 771.70L410.11 771.27" fill="none" stroke="#000" stroke-width="1.1" stroke-linecap="round" stroke-linejoin="round"/>
<path d="M433.94 753.65L432.43 755.17L430.92 757.46L429.41 760.51L428.65 764.32L428.65 767.37L429.41 771.18L430.92 774.22L432.43 776.51L433.94 778.03M432.43 755.17L430.92 758.22L430.16 760.51L429.41 764.32L429.41 767.37L430.16 771.18L430.92 773.46L432.43 776.51M439.98 762.03L439.98 772.70M440.74 762.03L440.74 772.70M440.74 764.32L442.25 762.79L444.51 762.03L446.03 762.03L448.29 762.79L449.05 764.32L449.05 772.70M446.03 762.03L447.54 762.79L448.29 764.32L448.29 772.70M449.05 764.32L450.56 762.79L452.82 762.03L454.33 762.03L456.60 762.79L457.36 764.32L457.36 772.70M454.33 762.03L455.85 762.79L456.60 764.32L456.60 772.70M437.72 762.03L440.74 762.03M437.72 772.70L443.00 772.70M446.03 772.70L451.31 772.70M454.33 772.70L459.62 772.70M464.91 763.56L464.91 764.32L464.16 764.32L464.16 763.56L464.91 762.79L466.42 762.03L469.44 762.03L470.95 762.79L471.71 763.56L472.47 765.08L472.47 770.41L473.22 771.94L473.98 772.70M471.71 763.56L471.71 770.41L472.47 771.94L473.98 772.70L474.73 772.70M471.71 765.08L470.95 765.84L466.42 766.60L464.16 767.37L463.40 768.89L463.40 770.41L464.16 771.94L466.42 772.70L468.69 772.70L470.20 771.94L471.71 770.41M466.42 766.60L464.91 767.37L464.16 768.89L464.16 770.41L464.91 771.94L466.42 772.70M482.29 762.03L480.78 762.79L480.02 763.56L479.26 765.08L479.26 766.60L480.02 768.13L480.78 768.89L482.29 769.65L483.80 769.65L485.31 768.89L486.06 768.13L486.82 766.60L486.82 765.08L486.06 763.56L485.31 762.79L483.80 762.03L482.29 762.03M480.78 762.79L480.02 764.32L480.02 767.37L480.78 768.89M485.31 768.89L486.06 767.37L486.06 764.32L485.31 762.79M486.06 763.56L486.82 762.79L488.33 762.03L488.33 762.79L486.82 762.79M480.02 768.13L479.26 768.89L478.51 770.41L478.51 771.18L479.26 772.70L481.53 773.46L485.31 773.46L487.57 774.22L488.33 774.99M478.51 771.18L479.26 771.94L481.53 772.70L485.31 772.70L487.57 773.46L488.33 774.99L488.33 775.75L487.57 777.27L485.31 778.03L480.78 778.03L478.51 777.27L477.75 775.75L477.75 774.99L478.51 773.46L480.78 772.70M492.86 753.65L494.37 755.17L495.88 757.46L497.39 760.51L498.15 764.32L498.15 767.37L497.39 771.18L495.88 774.22L494.37 776.51L492.86 778.03M494.37 755.17L495.88 758.22L496.64 760.51L497.39 764.32L497.39 767.37L496.64 771.18L495.88 773.46L494.37 776.51" fill="none" stroke="#000" stroke-width="1.1" stroke-linecap="round" stroke-linejoin="round"/>
<g transform="translate(22.55 457.6) rotate(-90)">
<path d="M2.62 -15.90L2.62 0.00M3.31 -15.90L7.45 -2.27M2.62 -15.90L7.45 0.00M12.29 -15.90L7.45 0.00M12.29 -15.90L12.29 0.00M12.98 -15.90L12.98 0.00M0.55 -15.90L3.31 -15.90M12.29 -15.90L15.05 -15.90M0.55 0.00L4.69 0.00M10.22 0.00L15.05 0.00" fill="none" stroke="#000" stroke-width="1.1" stroke-linecap="round" stroke-linejoin="round"/><path d="M32.05 -18.93L18.55 5.30" fill="none" stroke="#000" stroke-width="1.1" stroke-linecap="round" stroke-linejoin="round"/><path d="M37.51 -15.90L37.51 0.00M38.23 -15.90L38.23 0.00M35.35 -15.90L40.39 -15.90M35.35 0.00L46.15 0.00L46.15 -4.54L45.43 0.00" fill="none" stroke="#000" stroke-width="1.1" stroke-linecap="round" stroke-linejoin="round"/><path d="M76.05 -18.93L74.71 -17.41L73.36 -15.14L72.02 -12.11L71.35 -8.33L71.35 -5.30L72.02 -1.51L73.36 1.51L74.71 3.79L76.05 5.30M74.71 -17.41L73.36 -14.38L72.69 -12.11L72.02 -8.33L72.02 -5.30L72.69 -1.51L73.36 0.76L74.71 3.79" fill="none" stroke="#000" stroke-width="1.1" stroke-linecap="round" stroke-linejoin="round"/><path d="M82.62 -15.90L82.62 0.00M83.31 -15.90L87.45 -2.27M82.62 -15.90L87.45 0.00M92.29 -15.90L87.45 0.00M92.29 -15.90L92.29 0.00M92.98 -15.90L92.98 0.00M80.55 -15.90L83.31 -15.90M92.29 -15.90L95.05 -15.90M80.55 0.00L84.69 0.00M90.22 0.00L95.05 0.00" fill="none" stroke="#000" stroke-width="1.1" stroke-linecap="round" stroke-linejoin="round"/><path d="M123.95 -18.93L111.15 5.30" fill="none" stroke="#000" stroke-width="1.1" stroke-linecap="round" stroke-linejoin="round"/><path d="M129.45 -15.90L129.45 0.00M130.18 -15.90L130.18 0.00M127.25 -15.90L132.38 -15.90M127.25 0.00L138.25 0.00L138.25 -4.54L137.52 0.00" fill="none" stroke="#000" stroke-width="1.1" stroke-linecap="round" stroke-linejoin="round"/><path d="M153.65 -18.93L155.11 -17.41L156.56 -15.14L158.02 -12.11L158.75 -8.33L158.75 -5.30L158.02 -1.51L156.56 1.51L155.11 3.79L153.65 5.30M155.11 -17.41L156.56 -14.38L157.29 -12.11L158.02 -8.33L158.02 -5.30L157.29 -1.51L156.56 0.76L155.11 3.79" fill="none" stroke="#000" stroke-width="1.1" stroke-linecap="round" stroke-linejoin="round"/>
<path d="M48.82 -1.92L51.50 6.90M49.20 -1.92L51.50 5.64M54.18 -1.92L51.50 6.90M48.05 -1.92L50.35 -1.92M52.65 -1.92L54.95 -1.92" fill="none" stroke="#000" stroke-width="1.1" stroke-linecap="round" stroke-linejoin="round"/>
<path d="M102.32 -1.83L100.96 -1.40L99.61 -0.54L98.70 0.75L98.25 2.04L98.25 3.33L98.70 4.62L99.61 5.91L100.96 6.77L102.32 7.20L103.68 7.20L105.04 6.77L106.39 5.91L107.30 4.62L107.75 3.33L107.75 2.04L107.30 0.75L106.39 -0.54L105.04 -1.40L103.68 -1.83L102.32 -1.83M102.77 2.04L102.32 2.47L102.32 2.90L102.77 3.33L103.23 3.33L103.68 2.90L103.68 2.47L103.23 2.04L102.77 2.04M102.77 2.47L102.77 2.90L103.23 2.90L103.23 2.47L102.77 2.47" fill="none" stroke="#000" stroke-width="1.1" stroke-linecap="round" stroke-linejoin="round"/>
<path d="M144.32 -1.83L142.96 -1.40L141.61 -0.54L140.70 0.75L140.25 2.04L140.25 3.33L140.70 4.62L141.61 5.91L142.96 6.77L144.32 7.20L145.68 7.20L147.04 6.77L148.39 5.91L149.30 4.62L149.75 3.33L149.75 2.04L149.30 0.75L148.39 -0.54L147.04 -1.40L145.68 -1.83L144.32 -1.83M144.77 2.04L144.32 2.47L144.32 2.90L144.77 3.33L145.23 3.33L145.68 2.90L145.68 2.47L145.23 2.04L144.77 2.04M144.77 2.47L144.77 2.90L145.23 2.90L145.23 2.47L144.77 2.47" fill="none" stroke="#000" stroke-width="1.1" stroke-linecap="round" stroke-linejoin="round"/>
</g>
</svg></body></html>
